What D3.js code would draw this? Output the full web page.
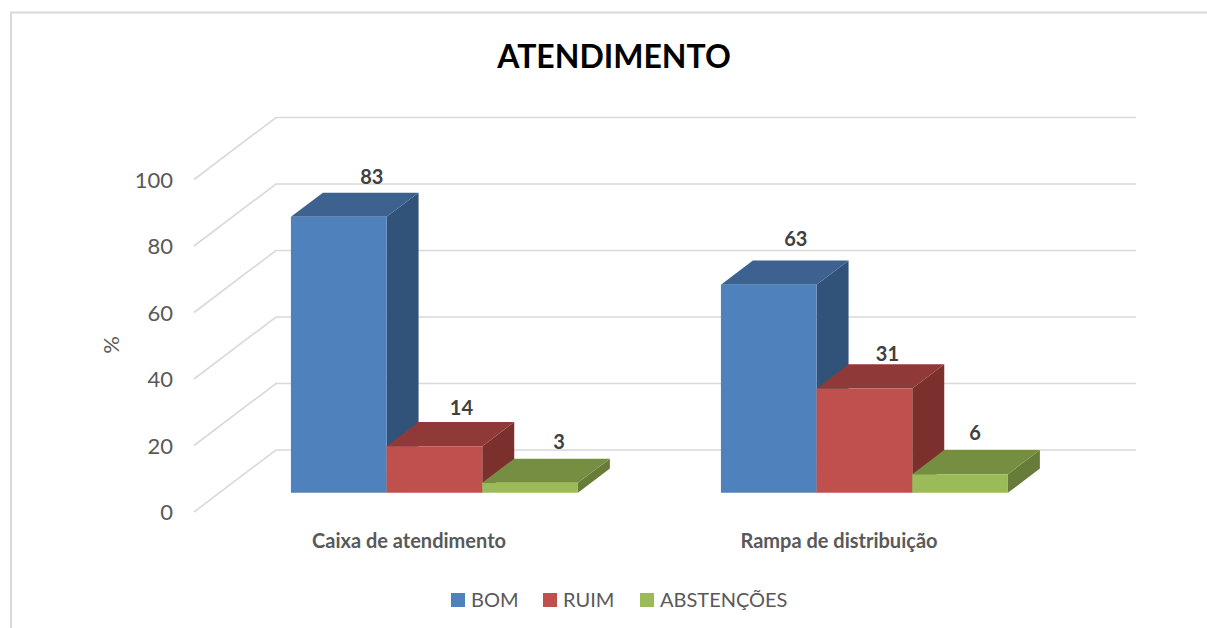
<!DOCTYPE html>
<html>
<head>
<meta charset="utf-8">
<script src="https://cdn.jsdelivr.net/npm/d3@7"></script>
<style>
  html, body { margin: 0; padding: 0; background: #fff; }
  svg { display: block; font-family: Lato, "Open Sans", sans-serif; }
</style>
</head>
<body>
<div id="plot"></div>
<script>
// Data
const categories = ["Caixa de atendimento", "Rampa de distribuição"];
const seriesNames = ["BOM", "RUIM", "ABSTENÇÕES"];
const bom = [83, 62.6];
const ruim = [14, 31.4];
const abstencoes = [3, 5.6];
const yTicks = [0, 20, 40, 60, 80, 100];

const width = 1207;
const height = 628;

// face colours per series: front, top, side
const colors = [
    ["#4f81bd", "#3d628f", "#325379"],
    ["#c0504d", "#8f3a38", "#7b302e"],
    ["#9bbb59", "#768e42", "#677c39"]
];

const svg = d3.select("#plot")
    .append("svg")
    .attr("width", width)
    .attr("height", height);

// Frame, open on the right and bottom sides
svg.append("path")
    .attr("d", `M11,${height} V12.5 H${width}`)
    .attr("fill", "none")
    .attr("stroke", "#d9d9d9")
    .attr("stroke-width", 2);

svg.append("text")
    .attr("x", 614)
    .attr("y", 68)
    .attr("text-anchor", "middle")
    .attr("font-size", "32px")
    .attr("font-weight", "bold")
    .attr("fill", "#000")
    .text("ATENDIMENTO");

// Scales work on the front plane of the floor, depth is added by project()
const x = d3.scaleBand()
    .domain(categories)
    .range([194, 1054]);

const xSeries = d3.scaleBand()
    .domain(seriesNames)
    .range([0, 287]);

const y = d3.scaleLinear()
    .domain([0, 100])
    .range([512, 179.5]);

const depthX = 82;
const depthY = 62;
const barZ0 = 0.31;  // front of the bars inside the depth of the plot
const barZ1 = 0.70;  // back of the bars

function project(px, value, z) {
    return [px + depthX * z, y(value) - depthY * z];
}

function poly(points) {
    return "M" + points.map(p => p.join(",")).join("L") + "Z";
}

// Gridlines: the slanted wall piece then the back wall
svg.append("g")
    .selectAll("path")
    .data(yTicks)
    .enter()
    .append("path")
    .attr("d", d => {
        const a = project(x.range()[0], d, 0);
        const b = project(x.range()[0], d, 1);
        const c = project(x.range()[1], d, 1);
        return `M${a}L${b}L${c}`;
    })
    .attr("fill", "none")
    .attr("stroke", "#d9d9d9")
    .attr("stroke-width", 1.6);

// Y tick labels
svg.append("g")
    .selectAll("text")
    .data(yTicks)
    .enter()
    .append("text")
    .attr("x", 173)
    .attr("y", d => y(d) + 8)
    .attr("text-anchor", "end")
    .attr("font-size", "22px")
    .attr("fill", "#595959")
    .text(d => d);

svg.append("text")
    .attr("transform", "translate(119,345) rotate(-90)")
    .attr("text-anchor", "middle")
    .attr("font-size", "22px")
    .attr("fill", "#595959")
    .text("%");

// Bars, series by series, drawn left to right so the faces overlap correctly
const seriesValues = [bom, ruim, abstencoes];
const groupPad = (x.bandwidth() - xSeries.range()[1]) / 2;

// label nudges, the original labels do not sit quite centred on the bar tops
const labelNudgeX = [[1, -5, -3], [-5, -9, -17]];
const labelNudgeY = [[16, 14, 17], [21, 10, 17]];

categories.forEach((cat, ci) => {
    seriesNames.forEach((name, si) => {
        const v = seriesValues[si][ci];
        const x0 = x(cat) + groupPad + xSeries(name);
        const x1 = x0 + xSeries.bandwidth();
        const g = svg.append("g");

        // side
        g.append("path")
            .attr("d", poly([
                project(x1, 0, barZ0), project(x1, 0, barZ1),
                project(x1, v, barZ1), project(x1, v, barZ0)
            ]))
            .attr("fill", colors[si][2]);
        // top
        g.append("path")
            .attr("d", poly([
                project(x0, v, barZ0), project(x1, v, barZ0),
                project(x1, v, barZ1), project(x0, v, barZ1)
            ]))
            .attr("fill", colors[si][1]);
        // front
        g.append("path")
            .attr("d", poly([
                project(x0, 0, barZ0), project(x1, 0, barZ0),
                project(x1, v, barZ0), project(x0, v, barZ0)
            ]))
            .attr("fill", colors[si][0]);

        const top = project((x0 + x1) / 2, v, barZ1);
        svg.append("text")
            .attr("class", "value")
            .attr("x", top[0] + labelNudgeX[ci][si])
            .attr("y", top[1] - labelNudgeY[ci][si] + 7)
            .attr("text-anchor", "middle")
            .attr("font-size", "20px")
            .attr("font-weight", "bold")
            .attr("fill", "#404040")
            .text(d3.format(".0f")(v));
    });
});

// values go above every bar
svg.selectAll("text.value").raise();

// Category labels
svg.append("g")
    .selectAll("text")
    .data(categories)
    .enter()
    .append("text")
    .attr("x", d => x(d) + x.bandwidth() / 2)
    .attr("y", 548)
    .attr("text-anchor", "middle")
    .attr("font-size", "20px")
    .attr("font-weight", "bold")
    .attr("fill", "#595959")
    .text(d => d);

// Legend
const legendX = [451, 543, 640];
const legend = svg.append("g")
    .selectAll("g")
    .data(seriesNames)
    .enter()
    .append("g")
    .attr("transform", (d, i) => `translate(${legendX[i]},593)`);

legend.append("rect")
    .attr("width", 14)
    .attr("height", 14)
    .attr("fill", (d, i) => colors[i][0]);

legend.append("text")
    .attr("x", 20)
    .attr("y", 14)
    .attr("font-size", "20px")
    .attr("fill", "#595959")
    .text(d => d);
</script>
</body>
</html>
